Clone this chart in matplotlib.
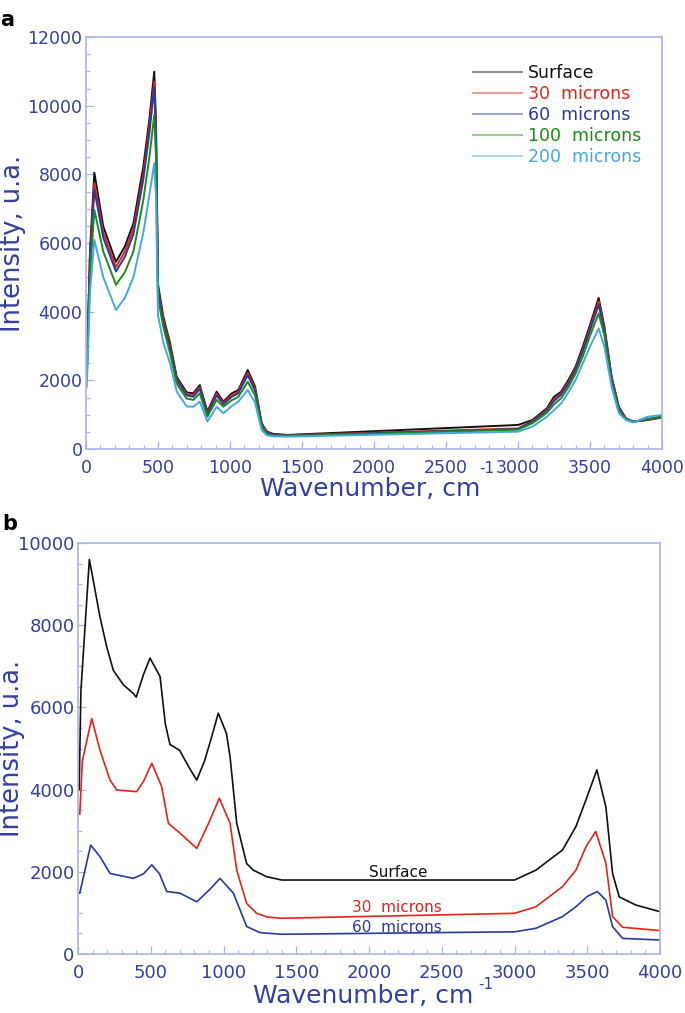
import matplotlib
matplotlib.use('Agg')
import matplotlib.pyplot as plt
from matplotlib.lines import Line2D
from matplotlib.ticker import MultipleLocator

# panel a: all depths on one wavenumber grid
wn_a = [5, 28, 58, 120, 208, 270, 329, 398, 440, 474, 486, 500, 537, 583, 630, 699, 745, 790, 843, 907,
        954, 1012, 1058, 1123, 1174, 1220, 1255, 1300, 1400, 3000, 3100, 3200, 3250, 3300, 3350, 3400, 3450, 3500, 3560, 3600,
        3650, 3700, 3750, 3800, 3900, 4000]
surf_a = [2200, 5800, 8050, 6480, 5450, 5900, 6570, 8220, 9600, 10990, 9500, 4800, 3850, 3100, 2100, 1650, 1620, 1860, 1090, 1670,
          1380, 1620, 1720, 2300, 1820, 750, 510, 440, 410, 700, 845, 1185, 1520, 1670, 2010, 2400, 2980, 3610, 4400, 3560,
          2110, 1230, 890, 800, 845, 920]
m30_a = [2150, 5650, 7750, 6300, 5300, 5750, 6400, 8000, 9400, 10700, 9300, 4700, 3780, 3020, 2050, 1600, 1570, 1800, 1040, 1610,
         1340, 1570, 1670, 2220, 1760, 720, 490, 420, 400, 600, 810, 1150, 1450, 1620, 1950, 2350, 2900, 3520, 4300, 3500,
         2080, 1200, 885, 795, 850, 930]
m60_a = [2100, 5500, 7550, 6150, 5170, 5600, 6250, 7850, 9200, 10530, 9100, 4600, 3700, 2950, 2000, 1560, 1520, 1750, 1000, 1560,
         1300, 1520, 1620, 2150, 1700, 700, 470, 410, 390, 580, 790, 1120, 1400, 1580, 1900, 2300, 2850, 3450, 4200, 3450,
         2050, 1180, 880, 790, 860, 940]
m100_a = [2000, 5100, 6960, 5750, 4780, 5150, 5750, 7250, 8500, 9730, 8500, 4400, 3550, 2800, 1900, 1470, 1430, 1620, 940, 1430,
          1230, 1420, 1520, 1960, 1560, 650, 440, 390, 380, 560, 750, 1050, 1300, 1480, 1800, 2200, 2700, 3300, 3950, 3300,
          1950, 1130, 870, 790, 880, 960]
m200_a = [1800, 4600, 6090, 5000, 4050, 4400, 5000, 6300, 7400, 8320, 7300, 3900, 3100, 2500, 1670, 1240, 1230, 1380, 800, 1230,
          1040, 1250, 1380, 1720, 1350, 550, 400, 370, 360, 505, 650, 940, 1130, 1330, 1650, 2010, 2500, 2980, 3510, 2980,
          1815, 1040, 845, 770, 940, 990]
labels_a = ['Surface', '30  microns', '60  microns', '100  microns', '200  microns']

# panel b: three depths, read separately
wn_b_surf = [8, 20, 78, 94, 151, 197, 243, 312, 380, 400, 450, 495, 564, 600, 632, 700, 722, 770, 816, 870,
             920, 964, 1020, 1045, 1091, 1159, 1205, 1297, 1400, 3000, 3147, 3330, 3422, 3491, 3566, 3628, 3674, 3720, 3835, 4000]
surf_b = [4000, 6400, 9600, 9300, 8200, 7480, 6900, 6550, 6340, 6250, 6800, 7200, 6750, 5600, 5100, 4950, 4800, 4500, 4230, 4700,
          5300, 5860, 5370, 4800, 3180, 2200, 2040, 1880, 1800, 1800, 2040, 2530, 3100, 3750, 4480, 3580, 1960, 1390, 1190, 1030]
wn_b_30 = [12, 30, 94, 151, 220, 266, 403, 450, 507, 575, 621, 701, 760, 816, 900, 971, 1045, 1091, 1159, 1228,
           1300, 1400, 3000, 3147, 3330, 3422, 3491, 3558, 3628, 3674, 3743, 4000]
m30_b = [3400, 4700, 5730, 4960, 4230, 3990, 3950, 4200, 4640, 4070, 3180, 2940, 2750, 2570, 3200, 3790, 3180, 2040, 1230, 990,
         900, 870, 990, 1150, 1640, 2040, 2610, 2980, 2210, 910, 650, 570]
wn_b_60 = [12, 87, 151, 220, 300, 380, 450, 507, 560, 610, 701, 816, 900, 976, 1068, 1159, 1250, 1400, 3000, 3147,
           3330, 3422, 3500, 3569, 3628, 3674, 3743, 4000]
m60_b = [1480, 2650, 2370, 1960, 1900, 1840, 1950, 2170, 1950, 1520, 1480, 1270, 1550, 1840, 1480, 670, 520, 480, 540, 625,
         910, 1150, 1400, 1520, 1310, 665, 380, 340]
labels_b = ['Surface', '30  microns', '60  microns']

colors = ['#111111', '#e3241b', '#2a3a9c', '#1a8c1a', '#45a8dc']
txt_col = '#3340a0'
spine_col = '#aab4e4'

plt.rcParams['font.family'] = 'DejaVu Sans'

fig = plt.figure(figsize=(6.85, 10.13), dpi=100)
ax1 = fig.add_axes([86/685, 1 - 449/1013, 576/685, 412/1013])
ax2 = fig.add_axes([78/685, 1 - 954/1013, 582/685, 411/1013])


def style_axes(ax, ymax, tsize):
    ax.set_xlim(0, 4000)
    ax.set_ylim(0, ymax)
    ax.xaxis.set_major_locator(MultipleLocator(500))
    ax.xaxis.set_minor_locator(MultipleLocator(100))
    ax.yaxis.set_major_locator(MultipleLocator(2000))
    ax.yaxis.set_minor_locator(MultipleLocator(500))
    for s in ax.spines.values():
        s.set_color(spine_col)
        s.set_linewidth(1.2)
    ax.tick_params(which='both', direction='in', color=spine_col, width=0.9,
                   labelcolor=txt_col, labelsize=tsize, top=False, right=False)
    ax.tick_params(which='major', length=5.5)
    ax.tick_params(which='minor', length=3)
    ax.tick_params(axis='x', pad=7)
    ax.tick_params(axis='y', pad=2.5)
    ax.set_xlabel('Wavenumber, cm', fontsize=18, color=txt_col, va='top')
    ax.set_ylabel('Intensity, u.a.', fontsize=18.5, color=txt_col)


# ---- panel a
series_a = [surf_a, m30_a, m60_a, m100_a, m200_a]
for ys, c in zip(series_a, colors):
    ax1.plot(wn_a, ys, color=c, lw=1.4)
style_axes(ax1, 12000, 12.5)
ax1.xaxis.set_label_coords(0.494, -0.068)
ax1.yaxis.set_label_coords(-0.104, 0.5)
fig.text(479/685, 1 - 461/1013, '-1', fontsize=11, color=txt_col, ha='left', va='top')

handles = [Line2D([], [], color=c, lw=1.5, alpha=0.45) for c in colors]
ax1.legend(handles, labels_a, loc='upper left', bbox_to_anchor=((473-86)/576, (449-64)/412),
           frameon=False, fontsize=12.5, labelcolor=colors, handlelength=2.8, handletextpad=0.35,
           labelspacing=0.17, borderpad=0, borderaxespad=0)
fig.text(0.5/685, 1 - 10/1013, 'a', fontsize=15, fontweight='bold', va='top')

# ---- panel b
ax2.plot(wn_b_surf, surf_b, color=colors[0], lw=1.2)
ax2.plot(wn_b_30, m30_b, color=colors[1], lw=1.2)
ax2.plot(wn_b_60, m60_b, color=colors[2], lw=1.2)
style_axes(ax2, 10000, 13)
ax2.xaxis.set_label_coords(0.49, -0.072)
ax2.yaxis.set_label_coords(-0.091, 0.5)
fig.text(478/685, 1 - 977/1013, '-1', fontsize=11, color=txt_col, ha='left', va='top')

ax2.text(2200, 1995, labels_b[0], color=colors[0], fontsize=11, ha='center', va='center')
ax2.text(2190, 1120, labels_b[1], color=colors[1], fontsize=11, ha='center', va='center')
ax2.text(2190, 633, labels_b[2], color=colors[2], fontsize=11, ha='center', va='center')
fig.text(2/685, 1 - 514/1013, 'b', fontsize=15, fontweight='bold', va='top')

fig.savefig('out.png', dpi=100)
